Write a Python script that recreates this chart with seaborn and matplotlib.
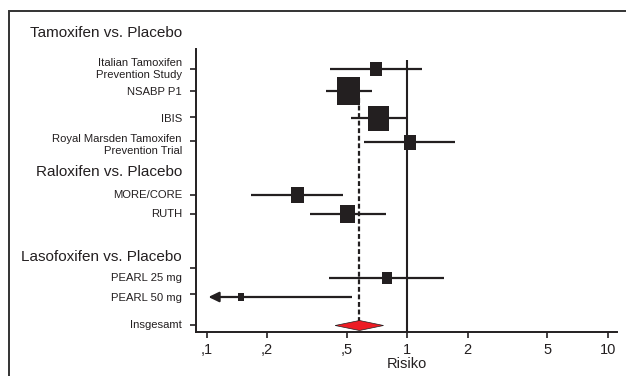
import matplotlib
matplotlib.use("Agg")
import matplotlib.pyplot as plt
import matplotlib.transforms as mtransforms
import matplotlib.patches as mpatches
import numpy as np
import pandas as pd
import seaborn as sns

# ---------------- data ----------------
studies = ["Italian Tamoxifen\nPrevention Study", "NSABP P1", "IBIS",
           "Royal Marsden Tamoxifen\nPrevention Trial", "MORE/CORE", "RUTH",
           "PEARL 25 mg", "PEARL 50 mg"]
estimate = [0.70, 0.51, 0.72, 1.03, 0.284, 0.506, 0.79, 0.148]
ci_low = [0.413, 0.394, 0.526, 0.61, 0.167, 0.328, 0.408, 0.102]
ci_high = [1.18, 0.667, 0.99, 1.74, 0.478, 0.78, 1.52, 0.53]
weight = [14.3, 27.7, 24.7, 15.0, 16.0, 18.0, 11.7, 7.7]
truncated = [False, False, False, False, False, False, False, True]

overall_label = "Insgesamt"
overall_est = 0.578
overall_low = 0.437
overall_high = 0.762

group_titles = ["Tamoxifen vs. Placebo", "Raloxifen vs. Placebo", "Lasofoxifen vs. Placebo"]
xtick_values = [0.1, 0.2, 0.5, 1, 2, 5, 10]
xtick_labels = [",1", ",2", ",5", "1", "2", "5", "10"]
x_title = "Risiko"

# ---------------- layout (pixel rows, top = small) ----------------
row_pos = [69.3, 91, 118.3, 142.3, 194.7, 214.3, 277.7, 297]
label_pos = [68.5, 91.7, 119, 144.7, 195, 214.3, 278.3, 297.7]
tick_pos = [69, 91, 117, 141, 195, 214, 268, 294, 325]
overall_pos = 325.5
overall_label_pos = 325
title_pos = [32.7, 171.7, 257.3]

W, H = 626, 376
dark = "#231f20"
sns.set_theme(style="white")
plt.rcParams["font.family"] = ["Liberation Sans", "DejaVu Sans"]

fig = plt.figure(figsize=(W / 100, H / 100), dpi=100)
ax = fig.add_axes([196 / W, 1 - 332 / H, (617 - 196) / W, (332 - 49) / H])
ax.set_xscale("log")
ax.set_xlim(10 ** (-1 - 10.7 / 200.5), 10 ** (1 + 9.3 / 200.5))
ax.set_ylim(332, 49)

# reference lines
ax.vlines(1, 60, 332, color=dark, lw=1.5, zorder=1)
ax.vlines(overall_est, 98, overall_pos - 4, color=dark, lw=1.6,
          linestyles=(0, (2.2, 1.2)), zorder=1)

# CI lines
for est, lo, hi, y, tr in zip(estimate, ci_low, ci_high, row_pos, truncated):
    if tr:
        ax.hlines(y, est, hi, color=dark, lw=1.6, zorder=2)
        ax.annotate("", xy=(lo, y), xytext=(est, y),
                    arrowprops=dict(arrowstyle="-|>,head_length=0.62,head_width=0.3",
                                    color=dark, lw=1.6, shrinkA=0, shrinkB=0,
                                    mutation_scale=10))
    else:
        ax.hlines(y, lo, hi, color=dark, lw=1.6, zorder=2)

# squares (slightly tall rectangles)
rect_marker = [(-0.83, -1), (0.83, -1), (0.83, 1), (-0.83, 1), (-0.83, -1)]
df = pd.DataFrame({"est": estimate, "y": row_pos, "w": weight})
sizes = {w: (w * 0.72) ** 2 for w in weight}
sns.scatterplot(data=df, x="est", y="y", size="w", sizes=sizes, marker=rect_marker,
                color=dark, edgecolor=dark, linewidth=0, legend=False, ax=ax, zorder=3)

# overall diamond
dy = 5
ax.fill([overall_low, overall_est, overall_high, overall_est],
        [overall_pos, overall_pos - dy, overall_pos, overall_pos + dy],
        facecolor="#ed1c24", edgecolor=dark, lw=0.5, zorder=4)

# axes styling
for s in ["top", "right"]:
    ax.spines[s].set_visible(False)
for s in ["left", "bottom"]:
    ax.spines[s].set_color(dark)
    ax.spines[s].set_linewidth(1.4)
ax.set_xticks(xtick_values)
ax.set_xticklabels(xtick_labels, fontsize=10.5, color=dark)
ax.xaxis.set_minor_locator(matplotlib.ticker.NullLocator())
ax.set_yticks(tick_pos)
ax.set_yticklabels([])
ax.tick_params(axis="x", direction="out", length=4, width=1.2, color=dark, pad=4, bottom=True)
ax.tick_params(axis="y", direction="out", length=4.5, width=1.2, color=dark, left=True)
ax.set_xlabel(x_title, fontsize=10.5, color=dark, labelpad=0)
ax.set_ylabel("")
ax.grid(False)

trans = mtransforms.blended_transform_factory(ax.transAxes, ax.transData)
xl = (182 - 196) / (617 - 196)
for lab, y in zip(studies, label_pos):
    ax.text(xl, y, lab, transform=trans, ha="right", va="center", fontsize=8.1,
            color=dark, linespacing=1.25, clip_on=False)
ax.text(xl, overall_label_pos, overall_label, transform=trans, ha="right", va="center",
        fontsize=8.1, color=dark, clip_on=False)
for t, y in zip(group_titles, title_pos):
    ax.text(xl, y, t, transform=trans, ha="right", va="center", fontsize=11,
            color=dark, clip_on=False)

# outer frame (left and top edges visible)
fig.patches.append(mpatches.Rectangle((8.5 / W, -0.1), 1.2, 1.1 - 10.5 / H,
                                      transform=fig.transFigure, fill=False,
                                      edgecolor="#333333", lw=1.4))

fig.savefig("out.png", dpi=100)
